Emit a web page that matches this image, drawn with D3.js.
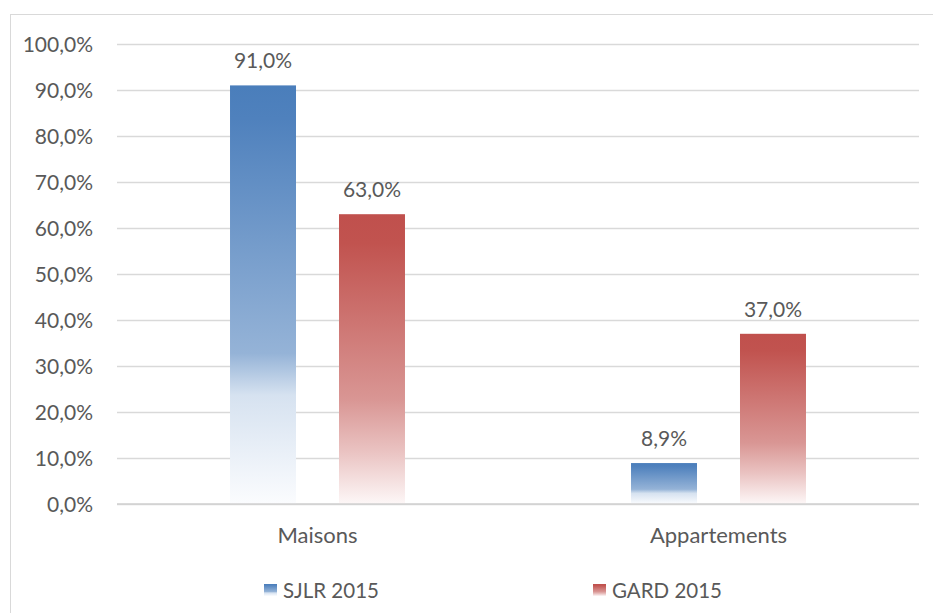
<!DOCTYPE html>
<html><head><meta charset="utf-8">
<script src="https://cdn.jsdelivr.net/npm/d3@7"></script>
<style>
html,body{margin:0;padding:0;background:#fff;}
svg text{font-family:Lato,"Open Sans",sans-serif;fill:#595959;}
</style></head>
<body>
<svg id="chart" width="933" height="613"></svg>
<script>
const categories = ["Maisons", "Appartements"];
const seriesNames = ["SJLR 2015", "GARD 2015"];
const sjlr = [91.0, 8.9];
const gard = [63.0, 37.0];
const yTicks = [0,10,20,30,40,50,60,70,80,90,100];

const svg = d3.select("#chart");
const W = 933, H = 613;
const m = {left:117, right:14, top:44, bottom:109};

// chart border
svg.append("rect").attr("x",10.5).attr("y",14.5).attr("width",W+10).attr("height",H+10)
  .attr("fill","#fff").attr("stroke","#D9D9D9").attr("stroke-width",1);

const defs = svg.append("defs");
const gradStops = {
  blue: [[0,"#4A7EBB"],[0.08,"#4F81BD"],[0.64,"#95B3D7"],[0.74,"#D6E2F0"],[1,"#FBFCFE"]],
  red:  [[0,"#C0504D"],[0.1,"#C1534F"],[0.64,"#D99694"],[0.82,"#EAC3C2"],[1,"#FDF7F7"]]
};
Object.entries(gradStops).forEach(([k,stops])=>{
  const g = defs.append("linearGradient").attr("id","g-"+k)
    .attr("x1",0).attr("y1",0).attr("x2",0).attr("y2",1);
  stops.forEach(s=>g.append("stop").attr("offset",s[0]).attr("stop-color",s[1]));
});

const x0 = d3.scaleBand().domain(categories).range([m.left, W-m.right]).paddingInner(0).paddingOuter(0);
const x1 = d3.scaleBand().domain(seriesNames).range([0, x0.bandwidth()]).paddingInner(0.3945).paddingOuter(1.037);
const y = d3.scaleLinear().domain([0,100]).range([H-m.bottom, m.top]);

const fmt = v => d3.format(".1f")(v).replace(".", ",") + "%";

// gridlines
const yAxis = d3.axisLeft(y).tickValues(yTicks).tickSize(-(W-m.right-m.left)).tickFormat(d=>fmt(d)).tickPadding(24);
const ga = svg.append("g").attr("transform",`translate(${m.left},0)`).call(yAxis);
ga.select(".domain").remove();
ga.selectAll(".tick line").attr("stroke","#D9D9D9").attr("stroke-width",1.5);
ga.selectAll(".tick text").attr("font-size",21).attr("fill","#595959").attr("dy","0.35em");

const data = categories.map((c,i)=>({cat:c, vals:[{s:seriesNames[0],v:sjlr[i],c:"blue"},{s:seriesNames[1],v:gard[i],c:"red"}]}));

const groups = svg.selectAll("g.cat").data(data).join("g").attr("class","cat")
  .attr("transform",d=>`translate(${x0(d.cat)},0)`);
groups.selectAll("rect").data(d=>d.vals).join("rect")
  .attr("x",d=>x1(d.s)).attr("width",x1.bandwidth())
  .attr("y",d=>y(d.v)).attr("height",d=>y(0)-y(d.v))
  .attr("fill",d=>`url(#g-${d.c})`);
groups.selectAll("text.lbl").data(d=>d.vals).join("text").attr("class","lbl")
  .attr("x",d=>x1(d.s)+x1.bandwidth()/2).attr("y",d=>y(d.v)-17)
  .attr("text-anchor","middle").attr("font-size",21).attr("fill","#404040")
  .text(d=>fmt(d.v));

// baseline
svg.append("line").attr("x1",m.left).attr("x2",W-m.right).attr("y1",y(0)).attr("y2",y(0))
  .attr("stroke","#D0D0D0").attr("stroke-width",1.5);

// category axis labels
const xAxis = d3.axisBottom(x0).tickSize(0).tickPadding(23);
const gx = svg.append("g").attr("transform",`translate(0,${y(0)})`).call(xAxis);
gx.select(".domain").remove();
gx.selectAll("text").attr("font-size",22).attr("fill","#595959");

// legend
const legendX = [264, 593];
const lg = svg.selectAll("g.leg").data(seriesNames).join("g").attr("class","leg")
  .attr("transform",(d,i)=>`translate(${legendX[i]},584)`);
lg.append("rect").attr("width",13).attr("height",12).attr("fill",(d,i)=>`url(#g-${i?"red":"blue"})`);
lg.append("text").attr("x",19).attr("y",14).attr("font-size",20.5).attr("fill","#595959").text(d=>d);
</script>
</body></html>
